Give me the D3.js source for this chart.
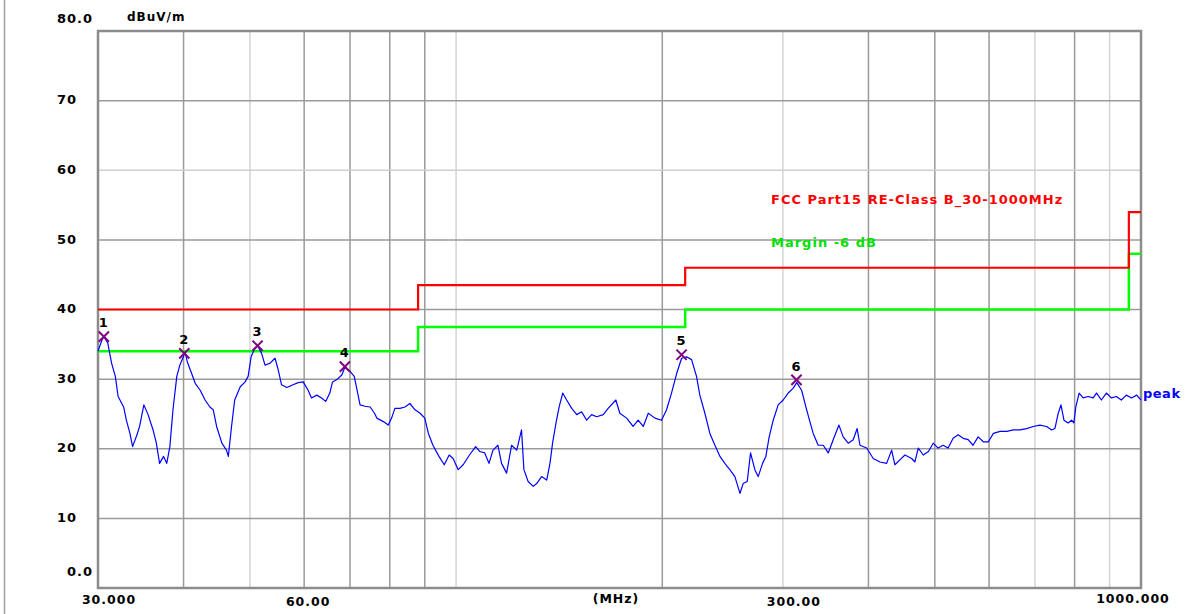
<!DOCTYPE html>
<html>
<head>
<meta charset="utf-8">
<script src="https://cdn.jsdelivr.net/npm/d3@7"></script>
<style>
  body { margin: 0; background: #fff; overflow: hidden; }
  svg { display: block; }
  text { font-family: "DejaVu Sans", sans-serif; font-weight: bold; font-size: 13px; letter-spacing: 1px; }
</style>
</head>
<body>
<div id="chart"></div>
<script>
// peak trace, MHz / dBuV/m
const traceFreq = [
  30.0, 30.4, 30.6, 31.0, 31.4, 31.8, 32.1, 32.7, 33.0, 33.4,
  33.7, 34.2, 34.5, 35.0, 35.5, 36.1, 36.5, 36.9, 37.4, 37.8,
  38.2, 38.6, 39.1, 39.5, 40.0, 40.2, 40.5, 41.1, 41.6, 42.3,
  43.0, 43.7, 44.2, 44.7, 45.5, 46.2, 46.5, 47.0, 47.5, 48.4,
  49.2, 49.7, 50.2, 50.8, 51.3, 52.0, 52.6, 53.5, 54.4, 54.9,
  55.6, 56.6, 57.8, 58.8, 59.8, 60.8, 61.5, 62.6, 63.6, 64.5,
  65.4, 66.0, 66.9, 68.1, 68.8, 70.0, 71.0, 72.0, 72.4, 73.6,
  74.9, 76.0, 76.6, 78.3, 79.6, 80.5, 81.4, 82.8, 84.2, 85.6,
  87.1, 88.6, 90.0, 91.1, 92.5, 94.4, 96.1, 97.7, 99.0, 100.7,
  102.4, 104.6, 106.8, 108.3, 110.1, 111.7, 113.2, 115.1, 116.5, 118.5,
  120.5, 122.6, 124.6, 125.6, 127.4, 129.6, 131.1, 133.3, 135.6, 137.1,
  138.3, 139.9, 141.4, 143.1, 145.0, 147.5, 150.0, 152.5, 155.1, 157.7,
  160.4, 164.0, 166.7, 171.1, 173.4, 177.4, 181.3, 184.4, 187.6, 190.8,
  195.1, 199.5, 202.9, 206.3, 209.9, 213.4, 217.0, 220.7, 224.4, 226.9,
  230.8, 234.7, 238.7, 242.8, 246.8, 251.0, 255.3, 259.7, 262.5, 266.1,
  269.1, 273.0, 276.1, 280.2, 283.3, 286.5, 290.4, 295.3, 300.3, 305.4,
  310.6, 314.3, 319.5, 324.1, 328.5, 332.2, 337.8, 343.6, 349.4, 355.3,
  362.2, 367.4, 373.7, 380.0, 385.1, 388.7, 397.6, 406.5, 415.8, 425.2,
  432.4, 437.2, 444.6, 452.2, 462.5, 467.6, 472.9, 481.0, 489.4, 497.2,
  505.6, 514.1, 522.8, 531.7, 540.7, 550.0, 559.3, 568.6, 578.3, 588.6,
  598.6, 608.8, 622.6, 636.8, 651.1, 665.9, 680.7, 696.0, 711.8, 728.1,
  740.5, 748.7, 757.1, 764.1, 771.8, 782.7, 791.7, 797.9, 803.2, 812.2,
  823.2, 837.2, 851.4, 861.2, 875.2, 890.1, 905.1, 920.5, 936.0, 951.9,
  968.9, 985.6, 1000
];
const traceLevel = [
  34.0, 35.6, 36.1, 35.2, 32.3, 30.4, 27.5, 26.0, 24.1, 22.2,
  20.3, 22.0, 23.2, 26.3, 24.9, 22.7, 20.8, 17.9, 18.9, 17.9,
  20.3, 25.6, 30.4, 32.0, 33.3, 33.9, 32.5, 30.8, 29.4, 28.4,
  27.0, 26.0, 25.6, 23.2, 20.8, 19.8, 18.9, 23.2, 27.0, 28.9,
  29.6, 30.4, 33.2, 34.4, 34.8, 33.7, 32.0, 32.3, 33.0, 31.6,
  29.2, 28.8, 29.2, 29.5, 29.6, 28.4, 27.3, 27.7, 27.3, 26.8,
  28.0, 29.6, 29.9, 30.6, 31.7, 31.1, 30.4, 27.5, 26.3, 26.1,
  26.0, 25.1, 24.4, 23.9, 23.4, 24.4, 25.8, 25.8, 26.0, 26.5,
  25.6, 25.1, 24.4, 22.2, 20.5, 18.9, 17.7, 19.1, 18.6, 17.0,
  17.7, 19.1, 20.3, 19.6, 19.4, 17.9, 19.8, 20.5, 17.9, 16.5,
  20.5, 19.8, 22.7, 17.0, 15.3, 14.6, 15.0, 16.0, 15.5, 17.9,
  20.8, 23.7, 26.0, 28.0, 27.0, 25.8, 24.9, 25.3, 24.1, 24.9,
  24.6, 24.9, 25.8, 27.0, 25.1, 24.4, 23.2, 24.1, 23.2, 25.1,
  24.4, 24.1, 25.6, 28.0, 30.8, 33.0, 33.2, 32.8, 30.4, 27.7,
  25.1, 22.2, 20.5, 18.9, 17.9, 17.0, 16.0, 13.6, 15.0, 15.3,
  19.4, 17.0, 16.0, 17.9, 18.9, 21.7, 24.1, 26.3, 27.0, 28.0,
  28.7, 29.5, 28.4, 26.0, 23.9, 22.2, 20.5, 20.5, 19.4, 21.3,
  23.4, 21.7, 20.8, 21.3, 22.9, 20.5, 20.1, 18.6, 18.1, 17.9,
  19.8, 17.7, 18.4, 19.1, 18.6, 18.1, 20.1, 19.1, 19.6, 20.8,
  20.1, 20.5, 20.1, 21.5, 22.0, 21.5, 21.3, 20.5, 21.7, 21.0,
  21.0, 22.2, 22.5, 22.5, 22.7, 22.7, 22.9, 23.2, 23.4, 23.2,
  22.7, 22.9, 25.1, 26.3, 24.1, 23.7, 24.1, 23.7, 26.0, 28.0,
  27.3, 27.5, 27.3, 28.0, 27.0, 28.0, 27.3, 27.5, 27.0, 27.7,
  27.3, 27.7, 27.0
];

// FCC Part15 class B limit, band edges and levels
const limitFreq = [30, 88, 216, 960, 1000];
const limitLevel = [40, 43.5, 46, 54];
const marginDb = 6;

const markerFreq = [30.6, 40.1, 51.3, 68.8, 213.4, 314.0];
const markerLevel = [36.1, 33.7, 34.8, 31.8, 33.5, 29.9];
const markerName = ["1", "2", "3", "4", "5", "6"];

const yTicks = [10, 20, 30, 40, 50, 60, 70];
const gridFreq = [40, 50, 60, 70, 80, 90, 100, 200, 300, 400, 500, 600, 700, 800, 900];
const lightFreq = [50, 100, 300, 700, 900];
const xLabelFreq = [30, 60, 300, 1000];
const xLabelText = ["30.000", "60.00", "300.00", "1000.000"];

const width = 1187, height = 614;
const margin = {top: 31, right: 46, bottom: 26, left: 98};
const innerWidth = width - margin.left - margin.right;
const innerHeight = height - margin.top - margin.bottom;

const root = d3.select("#chart").append("svg")
  .attr("width", width).attr("height", height);
root.append("rect").attr("width", width).attr("height", height).attr("fill", "#fff");
root.append("line").attr("x1", 4.5).attr("x2", 4.5).attr("y1", 0).attr("y2", height)
  .attr("stroke", "#a0a0a0").attr("stroke-width", 1.5);

const svg = root.append("g").attr("transform", `translate(${margin.left},${margin.top})`);

const x = d3.scaleLog().domain([30, 1000]).range([0, innerWidth]);
const y = d3.scaleLinear().domain([0, 80]).range([innerHeight, 0]);

// grid
svg.append("g").selectAll("line").data(gridFreq).enter().append("line")
  .attr("x1", d => x(d)).attr("x2", d => x(d))
  .attr("y1", 0).attr("y2", innerHeight)
  .attr("stroke", d => lightFreq.includes(d) ? "#d4d4d4" : "#9a9a9a")
  .attr("stroke-width", 1.5);

svg.append("g").selectAll("line").data(yTicks).enter().append("line")
  .attr("x1", 0).attr("x2", innerWidth)
  .attr("y1", d => y(d)).attr("y2", d => y(d))
  .attr("stroke", d => d === 60 ? "#cfcfcf" : "#9a9a9a")
  .attr("stroke-width", 1.5);

// frame
svg.append("rect").attr("width", innerWidth).attr("height", innerHeight)
  .attr("fill", "none").attr("stroke", "#8c8c8c").attr("stroke-width", 2.5);

// y labels
svg.selectAll(".ylab").data(yTicks).enter().append("text")
  .attr("x", -41).attr("y", d => y(d) - 1).attr("dy", "0.36em")
  .text(d => d);
svg.append("text").attr("x", -41).attr("y", -13).attr("dy", "0.36em").text("80.0");
svg.append("text").attr("x", -5).attr("y", innerHeight - 17).attr("dy", "0.36em")
  .attr("text-anchor", "end").text("0.0");
svg.append("text").attr("x", 29).attr("y", -14).attr("dy", "0.36em")
  .style("font-size", "12px").text("dBuV/m");

// x labels
const xLabelShift = [11, 4, 11, -8];
const xLabelDrop = [11, 13, 13, 10];
svg.selectAll(".xlab").data(xLabelFreq).enter().append("text")
  .attr("x", (d, i) => x(d) + xLabelShift[i])
  .attr("y", (d, i) => innerHeight + xLabelDrop[i]).attr("dy", "0.36em")
  .attr("text-anchor", "middle")
  .style("font-size", "12.5px")
  .text((d, i) => xLabelText[i]);
svg.append("text").attr("x", 518).attr("y", innerHeight + 10).attr("dy", "0.36em")
  .attr("text-anchor", "middle")
  .style("font-size", "12.5px").text("(MHz)");

// limit and margin lines
const limitPts = limitLevel.map((v, i) => [limitFreq[i], v]);
limitPts.push([limitFreq[limitFreq.length - 1], limitLevel[limitLevel.length - 1]]);
const stepLine = d3.line().x(d => x(d[0])).y(d => y(d[1])).curve(d3.curveStepAfter);

svg.append("path").attr("d", stepLine(limitPts.map(d => [d[0], d[1] - marginDb])))
  .attr("fill", "none").attr("stroke", "#00ff00").attr("stroke-width", 2.5);
svg.append("path").attr("d", stepLine(limitPts))
  .attr("fill", "none").attr("stroke", "#ff0000").attr("stroke-width", 2.2);

svg.append("text").attr("x", 673).attr("y", 168).attr("dy", "0.36em").attr("fill", "#ff0000")
  .text("FCC Part15 RE-Class B_30-1000MHz");
svg.append("text").attr("x", 673).attr("y", 211).attr("dy", "0.36em").attr("fill", "#00e000")
  .text("Margin -6 dB");

// trace
const traceLine = d3.line().x((d, i) => x(traceFreq[i])).y(d => y(d));
svg.append("path").attr("d", traceLine(traceLevel))
  .attr("fill", "none").attr("stroke", "#0000ff").attr("stroke-width", 1.2)
  .attr("stroke-linejoin", "round");
svg.append("text").attr("x", innerWidth + 2).attr("y", y(traceLevel[traceLevel.length - 1]) - 7)
  .attr("dy", "0.36em").attr("fill", "#0000ff")
  .style("letter-spacing", "0.5px").text("peak");

// markers
const mk = svg.append("g").selectAll("g").data(markerFreq).enter().append("g")
  .attr("transform", (d, i) => `translate(${x(d)},${y(markerLevel[i])})`);
mk.append("path").attr("d", d3.symbol().type(d3.symbolX).size(70))
  .attr("fill", "none").attr("stroke", "#800080").attr("stroke-width", 2);
mk.append("text").attr("y", -14).attr("dy", "0.36em").attr("text-anchor", "middle")
  .text((d, i) => markerName[i]);
</script>
</body>
</html>
